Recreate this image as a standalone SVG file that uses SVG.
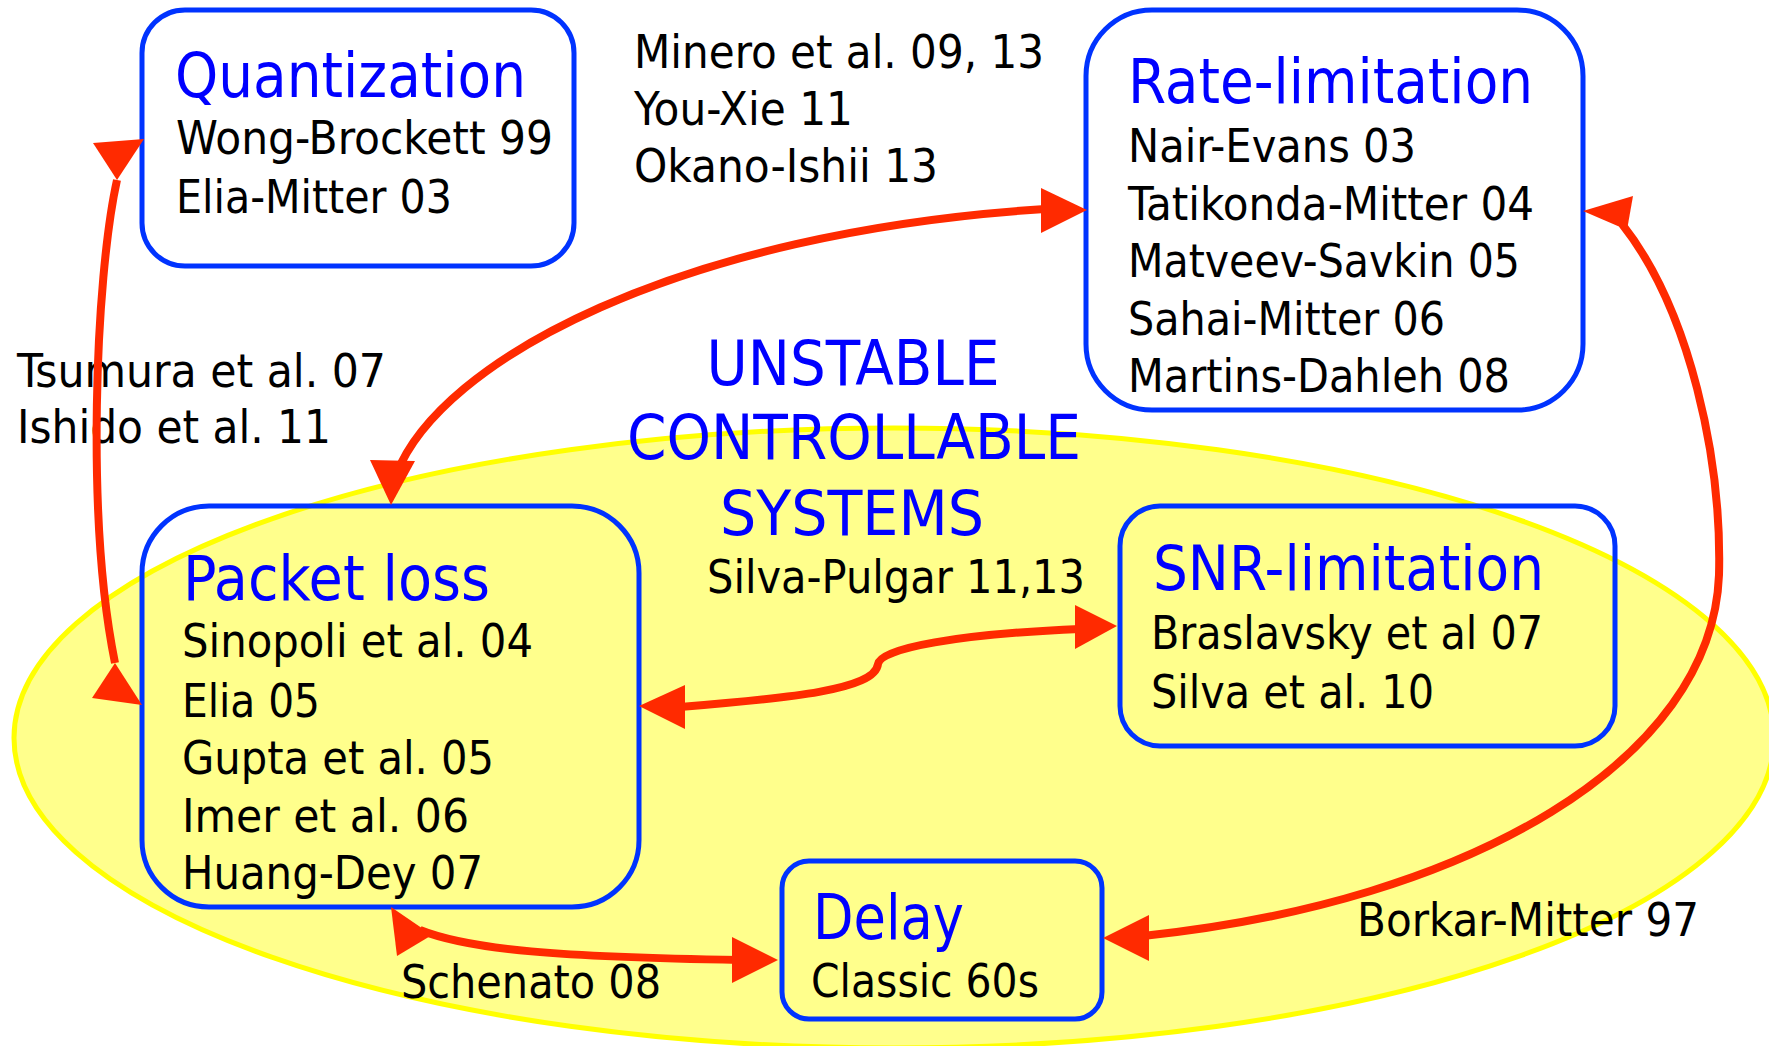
<svg xmlns="http://www.w3.org/2000/svg" width="1769" height="1046" viewBox="0 0 1769 1046">
  <style>
    text { font-family: "DejaVu Sans Condensed", "DejaVu Sans", sans-serif; font-stretch: condensed; }
    .box { fill: none; stroke: #0033ff; stroke-width: 5; }
    .boxw { fill: #ffffff; stroke: #0033ff; stroke-width: 5; }
    .title { fill: #0000ff; font-size: 63px; }
    .body { fill: #000000; font-size: 47px; }
    .big { fill: #0000ff; font-size: 63px; text-anchor: middle; }
    .wire { fill: none; stroke: #ff2a00; stroke-width: 8; }
    .head { fill: #ff2a00; stroke: none; }
  </style>

  <!-- region of unstable controllable systems -->
  <g id="region">
    <ellipse cx="894" cy="738" rx="880" ry="310" fill="#ffff8c" stroke="#ffff00" stroke-width="5"/>
    <text class="big" x="853" y="385" textLength="293" lengthAdjust="spacingAndGlyphs">UNSTABLE</text>
    <text class="big" x="854" y="459" textLength="454" lengthAdjust="spacingAndGlyphs">CONTROLLABLE</text>
    <text class="big" x="852" y="535" textLength="264" lengthAdjust="spacingAndGlyphs">SYSTEMS</text>
  </g>

  <g id="quantization">
    <rect class="boxw" x="142" y="10" width="432" height="256" rx="43"/>
    <text class="title" x="175" y="97" textLength="351" lengthAdjust="spacingAndGlyphs">Quantization</text>
    <text class="body" x="176" y="154" textLength="377" lengthAdjust="spacingAndGlyphs">Wong-Brockett 99</text>
    <text class="body" x="176" y="213" textLength="276" lengthAdjust="spacingAndGlyphs">Elia-Mitter 03</text>
  </g>

  <g id="rate-limitation">
    <rect class="boxw" x="1086" y="10" width="497" height="400" rx="66"/>
    <text class="title" x="1128" y="103" textLength="405" lengthAdjust="spacingAndGlyphs">Rate-limitation</text>
    <text class="body" x="1128" y="162" textLength="288" lengthAdjust="spacingAndGlyphs">Nair-Evans 03</text>
    <text class="body" x="1128" y="220" textLength="406" lengthAdjust="spacingAndGlyphs">Tatikonda-Mitter 04</text>
    <text class="body" x="1128" y="277" textLength="392" lengthAdjust="spacingAndGlyphs">Matveev-Savkin 05</text>
    <text class="body" x="1128" y="335" textLength="317" lengthAdjust="spacingAndGlyphs">Sahai-Mitter 06</text>
    <text class="body" x="1128" y="392" textLength="382" lengthAdjust="spacingAndGlyphs">Martins-Dahleh 08</text>
  </g>

  <g id="packet-loss">
    <rect class="box" x="142" y="506" width="497" height="401" rx="67"/>
    <text class="title" x="183" y="600" textLength="307" lengthAdjust="spacingAndGlyphs">Packet loss</text>
    <text class="body" x="182" y="657" textLength="351" lengthAdjust="spacingAndGlyphs">Sinopoli et al. 04</text>
    <text class="body" x="182" y="717" textLength="138" lengthAdjust="spacingAndGlyphs">Elia 05</text>
    <text class="body" x="182" y="774" textLength="312" lengthAdjust="spacingAndGlyphs">Gupta et al. 05</text>
    <text class="body" x="182" y="832" textLength="287" lengthAdjust="spacingAndGlyphs">Imer et al. 06</text>
    <text class="body" x="182" y="889" textLength="301" lengthAdjust="spacingAndGlyphs">Huang-Dey 07</text>
  </g>

  <g id="snr-limitation">
    <rect class="box" x="1120" y="506" width="495" height="240" rx="40"/>
    <text class="title" x="1153" y="590" textLength="391" lengthAdjust="spacingAndGlyphs">SNR-limitation</text>
    <text class="body" x="1151" y="649" textLength="392" lengthAdjust="spacingAndGlyphs">Braslavsky et al 07</text>
    <text class="body" x="1151" y="708" textLength="283" lengthAdjust="spacingAndGlyphs">Silva et al. 10</text>
  </g>

  <g id="delay">
    <rect class="box" x="782" y="861" width="320" height="158" rx="27"/>
    <text class="title" x="813" y="939" textLength="151" lengthAdjust="spacingAndGlyphs">Delay</text>
    <text class="body" x="811" y="997" textLength="228" lengthAdjust="spacingAndGlyphs">Classic 60s</text>
  </g>

  <!-- references attached to each link -->
  <g id="link-labels">
    <text class="body" x="634" y="68" textLength="410" lengthAdjust="spacingAndGlyphs">Minero et al. 09, 13</text>
    <text class="body" x="634" y="125" textLength="219" lengthAdjust="spacingAndGlyphs">You-Xie 11</text>
    <text class="body" x="634" y="182" textLength="304" lengthAdjust="spacingAndGlyphs">Okano-Ishii 13</text>
    <text class="body" x="17" y="387" textLength="369" lengthAdjust="spacingAndGlyphs">Tsumura et al. 07</text>
    <text class="body" x="17" y="443" textLength="314" lengthAdjust="spacingAndGlyphs">Ishido et al. 11</text>
    <text class="body" x="707" y="593" textLength="378" lengthAdjust="spacingAndGlyphs">Silva-Pulgar 11,13</text>
    <text class="body" x="401" y="998" textLength="260" lengthAdjust="spacingAndGlyphs">Schenato 08</text>
    <text class="body" x="1357" y="936" textLength="342" lengthAdjust="spacingAndGlyphs">Borkar-Mitter 97</text>
  </g>

  <g id="connectors">
    <!-- Quantization <-> Packet loss -->
    <path class="wire" d="M117,180 C95,280 86,520 115,663"/>
    <polygon class="head" points="93,143 144,139 117,180"/>
    <polygon class="head" points="115,663 92,698 142,705"/>
    <!-- Rate-limitation <-> Packet loss -->
    <path class="wire" d="M396,475 C440,360 680,232 1045,209"/>
    <polygon class="head" points="370,460 415,461 391,505"/>
    <polygon class="head" points="1041,188 1087,210 1041,233"/>
    <!-- Rate-limitation <-> Delay -->
    <path class="wire" d="M1622,224 C1690,310 1722,460 1719,575 C1712,760 1470,902 1143,936"/>
    <polygon class="head" points="1583,211 1633,196 1627,230"/>
    <polygon class="head" points="1103,938 1149,915 1149,961"/>
    <!-- Packet loss <-> SNR-limitation -->
    <path class="wire" d="M680,707 C790,698 875,690 878,664 C880,648 960,634 1080,629"/>
    <polygon class="head" points="1117,626 1075,605 1075,649"/>
    <polygon class="head" points="639,706 685,685 685,729"/>
    <!-- Packet loss <-> Delay -->
    <path class="wire" d="M420,930 C470,950 560,957 740,960"/>
    <polygon class="head" points="391,907 397,956 432,935"/>
    <polygon class="head" points="778,960 732,937 732,983"/>
  </g>
</svg>
